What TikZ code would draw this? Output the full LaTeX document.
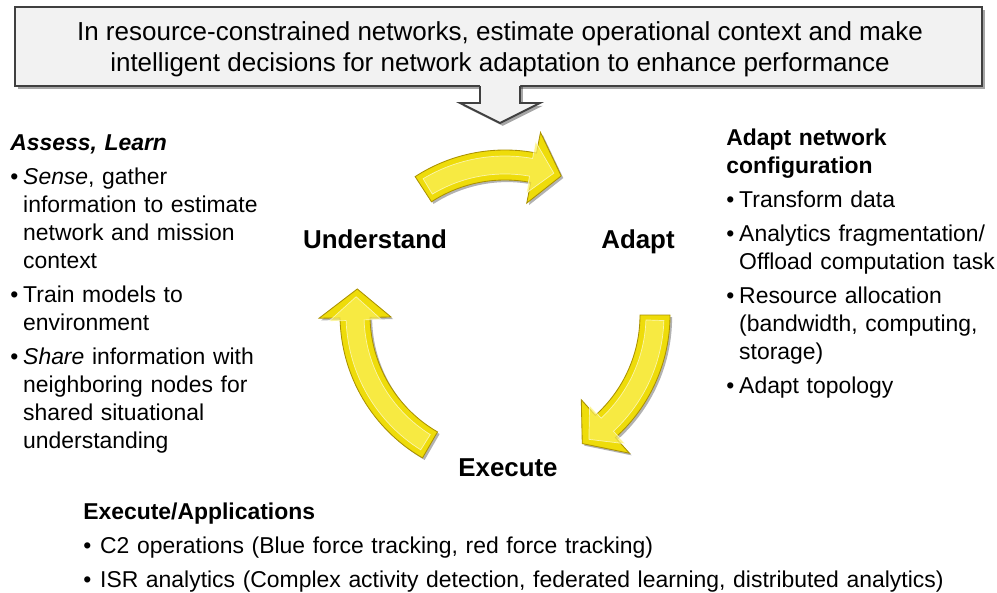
\documentclass[tikz,border=0pt]{standalone}
\usepackage{fontspec}
\setmainfont{Liberation Sans}
\usetikzlibrary{shadows,calc}

\definecolor{boxgray}{RGB}{242,242,242}
\definecolor{edgegray}{RGB}{64,64,64}
\definecolor{arrowyellow}{RGB}{238,220,10}
\definecolor{arrowlight}{RGB}{252,240,90}
\definecolor{arrowdark}{RGB}{170,145,0}

% bullet paragraph with hanging indent
\newlength{\bulletgap}
\setlength{\bulletgap}{9.2pt}
\newcommand{\bitem}[1]{\par\hangindent=\bulletgap\hangafter=1\noindent\makebox[\bulletgap][l]{\textbullet}#1\par}

% curved arrow of the cycle: start angle, head base angle, tip angle
\newcommand{\cyclearrow}[3]{%
  \path[fill=arrowyellow, draw=arrowdark, line width=0.6pt,
        drop shadow={shadow xshift=1.5pt, shadow yshift=-1.5pt, opacity=0.3, fill=black}]
    (#1:165) arc[start angle=#1, end angle=#2, radius=165]
    -- (#2:186) -- (#3:150) -- (#2:114) -- (#2:135)
    arc[start angle=#2, end angle=#1, radius=135] -- cycle;
  % bevel
  \path[fill=arrowlight, draw=white, draw opacity=0.6, line width=0.5pt, fill opacity=0.7]
    ($(0,0)+(#1-2:159)$) arc[start angle=#1-2, end angle=#2+1, radius=159]
    -- (#2+1:176) -- (#3+3:150) -- (#2+1:124) -- (#2+1:141)
    arc[start angle=#2+1, end angle=#1-2, radius=141] -- cycle;
}

\begin{document}
\begin{tikzpicture}[x=0.025cm, y=-0.025cm,
  textblock/.style={inner sep=0pt, anchor=north west, align=left,
    font=\fontsize{16.3}{19.9}\selectfont\setlength{\parskip}{4.3pt}\setlength{\parindent}{0pt}},
  cyclelabel/.style={inner sep=0pt, anchor=base, font=\fontsize{18.4}{22}\selectfont\bfseries}]

  \useasboundingbox (0,0) rectangle (997,592);

  % goal box %
  \node[draw=edgegray, fill=boxgray, line width=1.3pt, inner sep=0pt,
        minimum width=24.175cm, minimum height=1.975cm,
        drop shadow={shadow xshift=2pt, shadow yshift=-2pt, opacity=0.35, fill=black}]
    (goal) at (498.5,46.5) {};
  \node[font=\fontsize{18.5}{22}\selectfont, align=center, inner sep=0pt]
    (goaltext) at (500,49.5)
    {In resource-constrained networks, estimate operational context and make\\
     intelligent decisions for network adaptation to enhance performance};

  % down arrow out of the goal box %
  \fill[boxgray, drop shadow={shadow xshift=2pt, shadow yshift=-2pt, opacity=0.35, fill=black}]
    (480,84) -- (480,103) -- (460,103) -- (500,123) -- (540,103) -- (520,103) -- (520,84) -- cycle;
  \draw[edgegray, line width=1.3pt, line join=miter]
    (480,86) -- (480,103) -- (460,103) -- (500,123) -- (540,103) -- (520,103) -- (520,86);

  % cycle arrows %
  \coordinate (hub) at (505,315);
  \begin{scope}[shift={(hub)}, y=0.025cm]
    \cyclearrow{123}{79}{68}
    \cyclearrow{0}{-48}{-59}
    \cyclearrow{240}{181}{170}
  \end{scope}

  % cycle labels %
  \node[cyclelabel] (understand) at (375,248) {Understand};
  \node[cyclelabel] (adapt) at (638,248) {Adapt};
  \node[cyclelabel] (execute) at (508,476) {Execute};

  % left text %
  \node[textblock, text width=7cm] (learn) at (10,134.5) {%
    {\bfseries\itshape Assess, Learn}
    \bitem{\textit{Sense}, gather\newline information to estimate\newline network and mission\newline context}
    \bitem{Train models to\newline environment}
    \bitem{\textit{Share} information with\newline neighboring nodes for\newline shared situational\newline understanding}};

  % right text %
  \node[textblock, text width=7cm] (config) at (726,128.5) {%
    {\bfseries Adapt network\newline configuration}
    \bitem{Transform data}
    \bitem{Analytics fragmentation/\newline Offload computation task}
    \bitem{Resource allocation\newline (bandwidth, computing,\newline storage)}
    \bitem{Adapt topology}};

  % bottom text %
  \setlength{\bulletgap}{12pt}
  \node[textblock, text width=24cm] (apps) at (83,503) {%
    {\bfseries Execute/Applications}
    \bitem{C2 operations (Blue force tracking, red force tracking)}
    \bitem{ISR analytics (Complex activity detection, federated learning, distributed analytics)}};

\end{tikzpicture}
\end{document}
